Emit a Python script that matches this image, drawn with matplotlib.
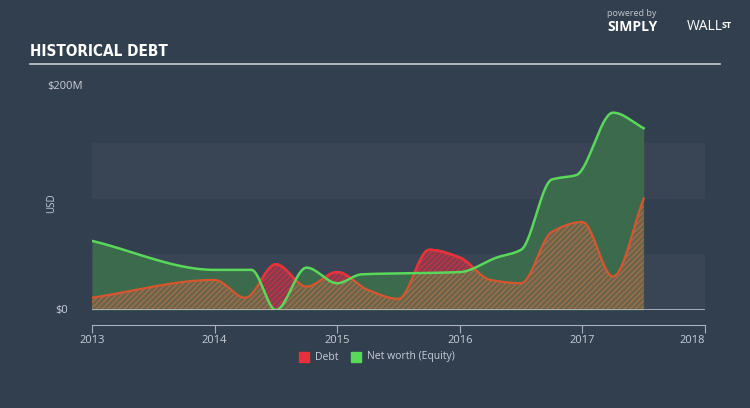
import matplotlib
matplotlib.use("Agg")
import matplotlib.pyplot as plt
import numpy as np

# data ($M)
years = [2013.0, 2014.0, 2014.25, 2014.5, 2014.75, 2015.0, 2015.25, 2015.5,
         2015.75, 2016.0, 2016.25, 2016.5, 2016.75, 2017.0, 2017.25, 2017.5]
debt = [11, 27, 11, 41, 21, 34, 18, 10, 54, 47, 27, 24, 70, 79, 30, 100]
equity_years = [2013.0, 2014.0, 2014.3, 2014.5, 2014.75, 2015.0, 2015.2, 2015.6,
                2016.0, 2016.3, 2016.5, 2016.75, 2016.95, 2017.25, 2017.5]
equity = [62, 36, 36, 0, 38, 24, 32, 33, 34, 47, 54, 117, 121, 177, 163]
xticks = [2013, 2014, 2015, 2016, 2017, 2018]

BG = '#323f4f'
BAND = '#394555'
TXT = '#c9ced6'


def monotone(xs, ys, xn):
    # Fritsch-Carlson monotone cubic, like d3.curveMonotoneX
    xs = np.asarray(xs, float)
    ys = np.asarray(ys, float)
    h = np.diff(xs)
    d = np.diff(ys) / h
    m = np.zeros_like(ys)
    m[0], m[-1] = d[0], d[-1]
    for i in range(1, len(xs) - 1):
        if d[i - 1] * d[i] > 0:
            w1 = 2 * h[i] + h[i - 1]
            w2 = h[i] + 2 * h[i - 1]
            m[i] = (w1 + w2) / (w1 / d[i - 1] + w2 / d[i])
    idx = np.clip(np.searchsorted(xs, xn) - 1, 0, len(xs) - 2)
    t = (xn - xs[idx]) / h[idx]
    h00 = 2 * t**3 - 3 * t**2 + 1
    h10 = t**3 - 2 * t**2 + t
    h01 = -2 * t**3 + 3 * t**2
    h11 = t**3 - t**2
    return (h00 * ys[idx] + h10 * h[idx] * m[idx]
            + h01 * ys[idx + 1] + h11 * h[idx] * m[idx + 1])


xs = np.linspace(2013, 2017.5, 900)
d_s = monotone(years, debt, xs)
e_s = monotone(equity_years, equity, xs)

fig = plt.figure(figsize=(7.5, 4.08), dpi=100, facecolor=BG)
ax = fig.add_axes([92 / 750, 98 / 408, 613 / 750, 223 / 408])
ax.set_facecolor(BG)
ax.set_xlim(2013, 2018)
ax.set_ylim(0, 200)

ax.axhspan(100, 150, color=BAND, lw=0, zorder=0)
ax.axhspan(0, 50, color=BAND, lw=0, zorder=0)

plt.rcParams['hatch.linewidth'] = 0.6
ax.fill_between(xs, 0, e_s, color='#3c6a4d', lw=0, zorder=1)
ax.fill_between(xs, 0, d_s, facecolor='#6f6449', edgecolor='#b0784e',
                hatch='//////', lw=0, zorder=2)
above = d_s > e_s
ax.fill_between(xs, e_s, d_s, where=above, facecolor='#8a3a4a',
                edgecolor='#d8344a', hatch='//////', lw=0, zorder=3,
                interpolate=True)

ax.plot(xs, d_s, color='#d7552f', lw=1.6, zorder=4)
ax.plot(xs, np.where(above, d_s, np.nan), color='#e8313c', lw=1.8, zorder=5)
ax.plot(xs, e_s, color='#5ad85a', lw=1.8, zorder=6)
ax.axhline(0, color='#b8bcc4', lw=1.2, zorder=7)

for s in ['top', 'right', 'left']:
    ax.spines[s].set_visible(False)
ax.spines['bottom'].set_position(('outward', 11))
ax.spines['bottom'].set_color('#aab0ba')
ax.set_yticks([])
ax.set_xticks(xticks)
ax.set_xticklabels([str(y) for y in xticks])
ax.tick_params(axis='x', colors='#aab0ba', length=6, direction='out',
               labelcolor=TXT, labelsize=8, pad=1)
for lbl in ax.get_xticklabels():
    lbl.set_fontfamily('Open Sans')
ax.get_xticklabels()[-1].set_ha('right')

fig.text(30 / 750, 1 - 52 / 408, 'HISTORICAL DEBT', color='white',
         fontsize=11, fontweight='bold', family='DejaVu Sans',
         stretch='condensed', va='center')
fig.add_artist(plt.Line2D([30 / 750, 720 / 750], [1 - 64 / 408] * 2,
                          color='#c8ccd2', lw=1.2))
fig.text(47 / 750, 1 - 87 / 408, '$200M', color=TXT, fontsize=8,
         family='Open Sans', va='center')
fig.text(55 / 750, 1 - 310 / 408, '$0', color=TXT, fontsize=8,
         family='Open Sans', va='center')
fig.text(52 / 750, 1 - 203 / 408, 'USD', color=TXT, fontsize=7,
         family='Open Sans', va='center', ha='center', rotation=90)

# legend
fig.patches.append(plt.Rectangle((299 / 750, 1 - 362 / 408), 10 / 750, 10 / 408,
                                 color='#e8313c', transform=fig.transFigure))
fig.text(315 / 750, 1 - 357 / 408, 'Debt', color=TXT, fontsize=7.5,
         family='Open Sans', va='center')
fig.patches.append(plt.Rectangle((351 / 750, 1 - 362 / 408), 10 / 750, 10 / 408,
                                 color='#5ad85a', transform=fig.transFigure))
fig.text(367 / 750, 1 - 357 / 408, 'Net worth (Equity)', color=TXT,
         fontsize=7.5, family='Open Sans', va='center')

# brand
fig.text(607 / 750, 1 - 14 / 408, 'powered by', color='#c0c6ce', fontsize=6.5,
         family='Open Sans', va='center')
fig.text(607 / 750, 1 - 27 / 408, 'SIMPLY', color='white', fontsize=10,
         fontweight='bold', family='Open Sans', va='center')
fig.text(687 / 750, 1 - 27 / 408, 'WALL', color='white', fontsize=10,
         family='Open Sans', va='center')
fig.text(722 / 750, 1 - 25 / 408, 'ST', color='white', fontsize=6.5,
         fontweight='bold', family='Open Sans', va='center')

fig.savefig('out.png', dpi=100, facecolor=BG)
